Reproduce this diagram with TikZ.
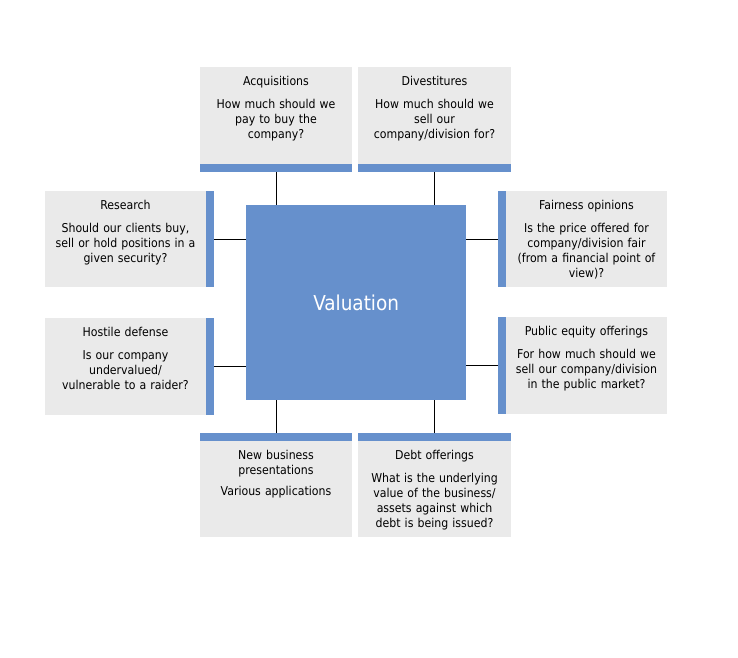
\documentclass[tikz,border=0pt]{standalone}
\usepackage{fontspec}
\setmainfont{DejaVu Sans Condensed}
\definecolor{boxgray}{HTML}{EAEAEA}
\definecolor{barblue}{HTML}{6690CC}
\begin{document}
\begin{tikzpicture}[x=1pt,y=-1pt,
  graybox/.style={fill=boxgray,draw=none,inner sep=0pt,anchor=north west},
  bluebar/.style={fill=barblue,draw=none,inner sep=0pt,anchor=north west},
  boxtext/.style={anchor=base,align=center,text width=160pt,inner sep=0pt,
     font=\fontsize{12.2}{15}\selectfont,text=black},
  link/.style={draw=black,line width=0.8pt}]
\useasboundingbox (0,0) rectangle (738,657);
% centre
\node[bluebar,minimum width=220pt,minimum height=195pt] (val) at (246,205) {};
\node[text=white,font=\fontsize{20.5}{24}\selectfont] (valtxt) at (val.center) {Valuation};
% top
\node[graybox,minimum width=152pt,minimum height=97pt] (acq) at (200,67) {};
\node[bluebar,minimum width=152pt,minimum height=8pt] (acqbar) at (200,164) {};
\node[boxtext] (acqtxt) at (276,85) {Acquisitions\\[8pt]How much should we\\ pay to buy the\\ company?};
\node[graybox,minimum width=153pt,minimum height=97pt] (div) at (358,67) {};
\node[bluebar,minimum width=153pt,minimum height=8pt] (divbar) at (358,164) {};
\node[boxtext] (divtxt) at (434.5,85) {Divestitures\\[8pt]How much should we\\ sell our\\ company/division for?};
% left
\node[graybox,minimum width=161pt,minimum height=96pt] (res) at (45,191) {};
\node[bluebar,minimum width=8pt,minimum height=96pt] (resbar) at (206,191) {};
\node[boxtext] (restxt) at (125.5,209) {Research\\[8pt]Should our clients buy,\\ sell or hold positions in a\\ given security?};
\node[graybox,minimum width=161pt,minimum height=97pt] (hos) at (45,318) {};
\node[bluebar,minimum width=8pt,minimum height=97pt] (hosbar) at (206,318) {};
\node[boxtext] (hostxt) at (125.5,336) {Hostile defense\\[8pt]Is our company\\ undervalued/\\ vulnerable to a raider?};
% right
\node[bluebar,minimum width=8pt,minimum height=96pt] (fairbar) at (498,191) {};
\node[graybox,minimum width=161pt,minimum height=96pt] (fair) at (506,191) {};
\node[boxtext] (fairtxt) at (586.5,209) {Fairness opinions\\[8pt]Is the price offered for\\ company/division fair\\ (from a financial point of\\ view)?};
\node[bluebar,minimum width=8pt,minimum height=97pt] (pubbar) at (498,317) {};
\node[graybox,minimum width=161pt,minimum height=97pt] (pub) at (506,317) {};
\node[boxtext] (pubtxt) at (586.5,335) {Public equity offerings\\[8pt]For how much should we\\ sell our company/division\\ in the public market?};
% bottom
\node[bluebar,minimum width=152pt,minimum height=8pt] (newbar) at (200,433) {};
\node[graybox,minimum width=152pt,minimum height=96pt] (new) at (200,441) {};
\node[boxtext] (newtxt) at (276,459) {New business\\ presentations\\[6pt]Various applications};
\node[bluebar,minimum width=153pt,minimum height=8pt] (debtbar) at (358,433) {};
\node[graybox,minimum width=153pt,minimum height=96pt] (debt) at (358,441) {};
\node[boxtext] (debttxt) at (434.5,459) {Debt offerings\\[8pt]What is the underlying\\ value of the business/\\ assets against which\\ debt is being issued?};
% connectors
\draw[link] (acqbar.south) -- (acqbar.south |- val.north);
\draw[link] (divbar.south) -- (divbar.south |- val.north);
\draw[link] (newbar.north) -- (newbar.north |- val.south);
\draw[link] (debtbar.north) -- (debtbar.north |- val.south);
\draw[link] (resbar.east) -- (resbar.east -| val.west);
\draw[link] (hosbar.east) -- (hosbar.east -| val.west);
\draw[link] (fairbar.west) -- (fairbar.west -| val.east);
\draw[link] (pubbar.west) -- (pubbar.west -| val.east);
\end{tikzpicture}
\end{document}
